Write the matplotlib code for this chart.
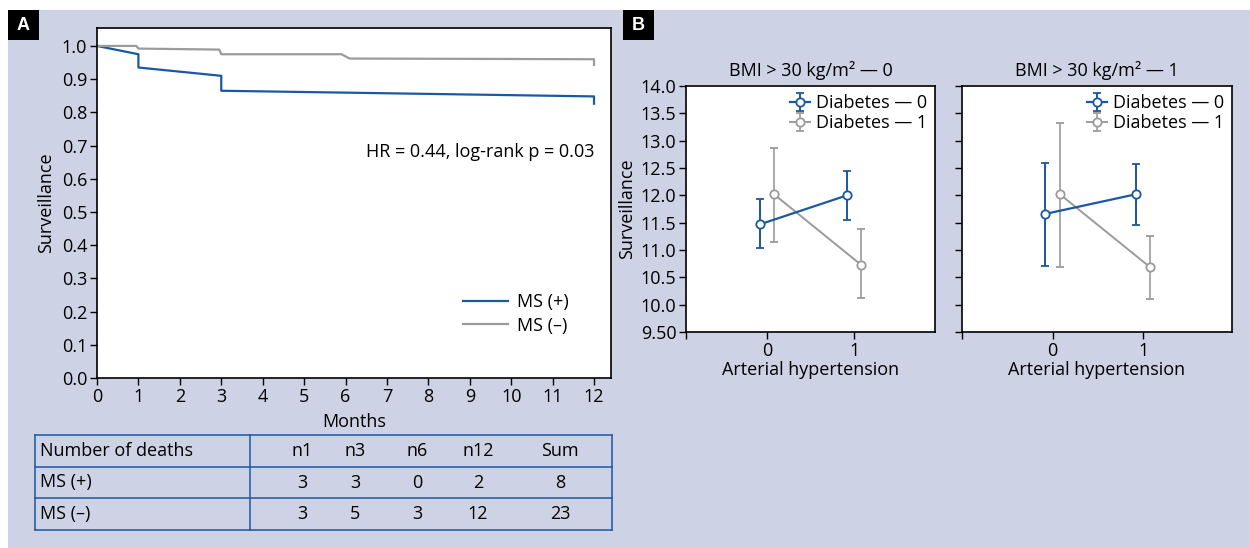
import numpy as np
import matplotlib.pyplot as plt
from matplotlib.patches import Rectangle

plt.rcParams['font.family'] = ['Open Sans', 'DejaVu Sans']
plt.rcParams['font.size'] = 13

# --- data -----------------------------------------------------------------
# Kaplan-Meier curves (months, survival)
t_pos = [0, 1, 1, 3, 3, 12, 12]
s_pos = [1.0, 0.975, 0.935, 0.91, 0.865, 0.848, 0.826]
t_neg = [0, 0.95, 1.0, 2.95, 3.0, 5.9, 6.1, 12, 12]
s_neg = [1.0, 1.0, 0.992, 0.989, 0.975, 0.975, 0.962, 0.96, 0.943]

# table
tab_header = ['Number of deaths', 'n1', 'n3', 'n6', 'n12', 'Sum']
tab_rows = ['MS (+)', 'MS (\u2013)']
deaths_pos = [3, 3, 0, 2, 8]
deaths_neg = [3, 5, 3, 12, 23]

# panel B: means with error bars (hypertension 0/1)
ht = [0, 1]
bmi_titles = ['BMI > 30 kg/m\u00b2 \u2014 0', 'BMI > 30 kg/m\u00b2 \u2014 1']
d0_mean = [[11.47, 12.0], [11.66, 12.02]]
d0_lo = [[11.04, 11.55], [10.71, 11.46]]
d0_hi = [[11.93, 12.44], [12.6, 12.57]]
d1_mean = [[12.02, 10.73], [12.02, 10.68]]
d1_lo = [[11.15, 10.12], [10.69, 10.1]]
d1_hi = [[12.87, 11.38], [13.32, 11.26]]

BLUE = '#1a58a3'
GRAY = '#9b9b9b'
BG = '#cdd2e5'
FS = 13

W, H = 1250, 548
fig = plt.figure(figsize=(12.5, 5.48), dpi=100)


def px_axes(x0, y0, x1, y1):
    return fig.add_axes([x0 / W, 1 - y1 / H, (x1 - x0) / W, (y1 - y0) / H])


fig.patches.append(Rectangle((8 / W, 0), 1, 1 - 10 / H, transform=fig.transFigure,
                             facecolor=BG, edgecolor='none', zorder=-10))

for lab, x0 in [('A', 8), ('B', 623)]:
    fig.patches.append(Rectangle((x0 / W, 1 - 40 / H), 31 / W, 30 / H,
                                 transform=fig.transFigure, facecolor='black',
                                 edgecolor='none'))
    fig.text((x0 + 15.5) / W, 1 - 25 / H, lab, color='white', fontweight='bold',
             fontsize=13, ha='center', va='center', family='Liberation Sans')

# --- panel A: KM curves -------------------------------------------------
ax = px_axes(97, 28, 611, 378)
ax.plot(t_pos, s_pos, color=BLUE, lw=1.6, label='MS (+)')
ax.plot(t_neg, s_neg, color=GRAY, lw=1.6, label='MS (\u2013)')
ax.set_xlim(0, 12.41)
ax.set_ylim(0, 1.054)
ax.set_xticks(range(13))
ax.set_yticks(np.arange(0, 1.01, 0.1))
ax.set_yticklabels(['%.1f' % v for v in np.arange(0, 1.01, 0.1)])
ax.tick_params(length=5, width=1, pad=2, labelsize=FS)
for s in ax.spines.values():
    s.set_linewidth(1.2)
ax.set_xlabel('Months', fontsize=FS, labelpad=5)
ax.set_ylabel('Surveillance', fontsize=FS, labelpad=5)
ax.text(12, 0.68, 'HR = 0.44, log-rank p = 0.03', ha='right', va='center', fontsize=FS)
ax.legend(loc='lower right', bbox_to_anchor=(0.95, 0.077), frameon=False, fontsize=FS,
          handlelength=2.5, handletextpad=0.5, labelspacing=0.3)

# --- table ---------------------------------------------------------------
tx = px_axes(35, 435, 612, 530)
tx.set_xlim(0, 1)
tx.set_ylim(3, 0)
tx.axis('off')
col_x = [0.009, 0.463, 0.555, 0.662, 0.768, 0.91]
for y in [0, 1, 2, 3]:
    tx.plot([0, 1], [y, y], color=BLUE, lw=1.1, clip_on=False)
for x in [0, 0.373, 1]:
    tx.plot([x, x], [0, 3], color=BLUE, lw=1.1, clip_on=False)
for j, h in enumerate(tab_header):
    tx.text(col_x[j], 0.5, h, ha='left' if j == 0 else 'center', va='center', fontsize=FS)
for i, (name, vals) in enumerate(zip(tab_rows, [deaths_pos, deaths_neg])):
    tx.text(col_x[0], 1.5 + i, name, ha='left', va='center', fontsize=FS)
    for j, v in enumerate(vals):
        tx.text(col_x[j + 1], 1.5 + i, str(v), ha='center', va='center', fontsize=FS)

# --- panel B ---------------------------------------------------------------
b_axes = [(686, 86, 935, 332, (-0.93, 1.93)), (962, 86, 1232, 332, (-1.0, 1.98))]
yt = [9.5, 10.0, 10.5, 11.0, 11.5, 12.0, 12.5, 13.0, 13.5, 14.0]
ytl = ['9.50', '10.0', '10.5', '11.0', '11.5', '12.0', '12.5', '13.0', '13.5', '14.0']
off = 0.08
for k, (x0, y0, x1, y1, xl) in enumerate(b_axes):
    bx = px_axes(x0, y0, x1, y1)
    xs0 = np.array(ht) - off
    xs1 = np.array(ht) + off
    m0, m1 = np.array(d0_mean[k]), np.array(d1_mean[k])
    e0 = [m0 - np.array(d0_lo[k]), np.array(d0_hi[k]) - m0]
    e1 = [m1 - np.array(d1_lo[k]), np.array(d1_hi[k]) - m1]
    bx.errorbar(xs1, m1, yerr=e1, color=GRAY, lw=1.4, marker='o', ms=6,
                mfc='white', mec=GRAY, mew=1.3, capsize=3, elinewidth=1.2,
                label='Diabetes \u2014 1')
    bx.errorbar(xs0, m0, yerr=e0, color=BLUE, lw=1.6, marker='o', ms=6,
                mfc='white', mec=BLUE, mew=1.3, capsize=3, elinewidth=1.4,
                label='Diabetes \u2014 0')
    bx.set_xlim(*xl)
    bx.set_ylim(9.5, 14.0)
    bx.set_xticks([xl[0], 0, 1])
    bx.set_xticklabels(['', '0', '1'])
    bx.set_yticks(yt)
    if k == 0:
        bx.set_yticklabels(ytl)
        bx.set_ylabel('Surveillance', fontsize=FS, labelpad=3)
    else:
        bx.set_yticklabels([])
    bx.tick_params(length=5, width=1, pad=2, labelsize=FS)
    for s in bx.spines.values():
        s.set_linewidth(1.2)
    bx.set_xlabel('Arterial hypertension', fontsize=FS, labelpad=1)
    bx.set_title(bmi_titles[k], fontsize=FS, pad=7)
    h, l = bx.get_legend_handles_labels()
    bx.legend(h[::-1], l[::-1], loc='upper right', frameon=False, fontsize=FS,
              handlelength=1.1, handletextpad=0.3, labelspacing=0.1,
              borderaxespad=0.05)

fig.savefig('out.png', dpi=100)
